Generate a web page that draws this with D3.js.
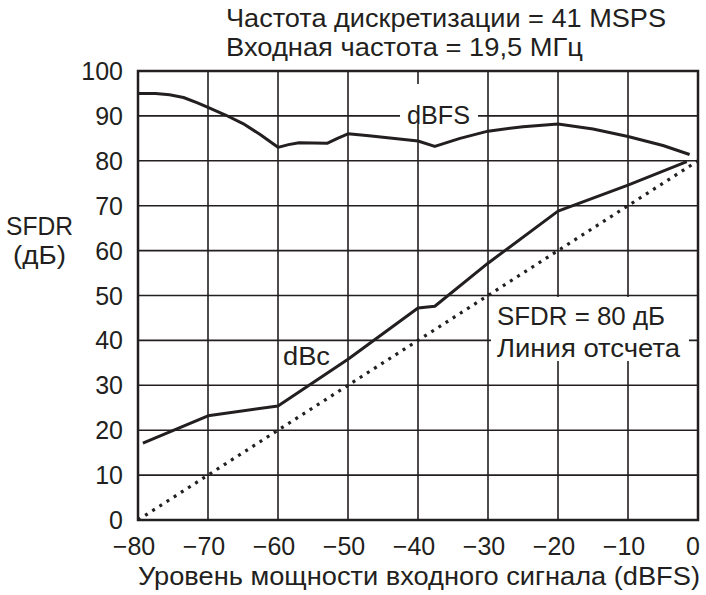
<!doctype html>
<html>
<head>
<meta charset="UTF-8" />
<script src="https://d3js.org/d3.v7.min.js"></script>
<style>
  body { margin: 0; background: #fff; }
  svg text { font-family: "Liberation Sans", Arial, sans-serif; fill: #231f20; }
</style>
</head>
<body>
<svg id="chart" width="706" height="595"></svg>
<script>
(function(){
  "use strict";

  // dBFS curve (input level dBFS, SFDR dB)
  const dbfsX = [-80, -77.5, -75.5, -73.5, -71.5, -70, -67.5, -65, -62.5, -60, -58.5, -57, -53, -51.5, -50, -47, -40, -37.6, -34, -30, -25, -20, -15, -10, -5, -1.2];
  const dbfsY = [95, 95, 94.7, 94.1, 92.9, 91.9, 90.2, 88.3, 85.8, 83, 83.6, 84, 83.9, 85, 86, 85.6, 84.4, 83.2, 85, 86.6, 87.6, 88.2, 87.1, 85.4, 83.4, 81.4];

  // dBc curve
  const dbcX = [-79.3, -70, -60, -50, -40, -37.6, -30, -20, -10, -1.6];
  const dbcY = [17.1, 23.2, 25.4, 35.8, 47.2, 47.6, 57.2, 68.8, 74.6, 79.8];

  // 80 dB reference line
  const refX = [-80, 0];
  const refY = [0, 80];

  const xTicks = [-80, -70, -60, -50, -40, -30, -20, -10, 0];
  const yTicks = [0, 10, 20, 30, 40, 50, 60, 70, 80, 90, 100];

  const svg = d3.select("#chart");
  const x = d3.scaleLinear().domain([-80, 0]).range([138, 698]);
  const y = d3.scaleLinear().domain([0, 100]).range([520, 71]);
  const ink = "#231f20";

  // grid
  svg.append("g").selectAll("line").data(xTicks).enter().append("line")
     .attr("x1", d => x(d)).attr("x2", d => x(d))
     .attr("y1", y(0)).attr("y2", y(100))
     .attr("stroke", ink).attr("stroke-width", 1.6);
  svg.append("g").selectAll("line").data(yTicks).enter().append("line")
     .attr("x1", x(-80)).attr("x2", x(0))
     .attr("y1", d => y(d)).attr("y2", d => y(d))
     .attr("stroke", ink).attr("stroke-width", 1.6);

  // white boxes behind in-plot labels
  svg.append("rect").attr("x", 400).attr("y", 84).attr("width", 78).attr("height", 40).attr("fill", "#fff");
  svg.append("rect").attr("x", 491).attr("y", 297).attr("width", 198).attr("height", 64).attr("fill", "#fff");

  svg.append("rect")
     .attr("x", x(-80)).attr("y", y(100))
     .attr("width", x(0) - x(-80)).attr("height", y(0) - y(100))
     .attr("fill", "none").attr("stroke", ink).attr("stroke-width", 2.5);

  // tick labels
  const fmt = d => d < 0 ? "\u2212" + Math.abs(d) : String(d);
  svg.append("g").selectAll("text").data(xTicks).enter().append("text")
     .attr("x", d => d === 0 ? x(d) - 5 : x(d) - 4).attr("y", 555)
     .attr("text-anchor", "middle").attr("font-size", 25)
     .text(fmt);
  svg.append("g").selectAll("text").data(yTicks).enter().append("text")
     .attr("x", 123).attr("y", d => y(d) + 9)
     .attr("text-anchor", "end").attr("font-size", 25)
     .text(d => d);

  const line = d3.line().x(d => x(d[0])).y(d => y(d[1]));

  // reference line
  svg.append("path")
     .datum(d3.zip(refX, refY))
     .attr("d", line).attr("fill", "none")
     .attr("stroke", ink).attr("stroke-width", 3.2)
     .attr("stroke-dasharray", "3,5.5");

  svg.append("path")
     .datum(d3.zip(dbfsX, dbfsY))
     .attr("d", line).attr("fill", "none")
     .attr("stroke", ink).attr("stroke-width", 3)
     .attr("stroke-linejoin", "round");
  svg.append("path")
     .datum(d3.zip(dbcX, dbcY))
     .attr("d", line).attr("fill", "none")
     .attr("stroke", ink).attr("stroke-width", 3)
     .attr("stroke-linejoin", "round");

  // text with a fixed width, as in the reference
  function txt(s, tx, ty, w) {
    return svg.append("text").attr("x", tx).attr("y", ty)
       .attr("font-size", 25)
       .attr("textLength", w).attr("lengthAdjust", "spacingAndGlyphs")
       .text(s);
  }

  txt("dBFS", 407, 124, 63);
  txt("dBc", 283, 365, 47);
  txt("SFDR = 80 дБ", 497, 325, 168);
  txt("Линия отсчета", 497, 357, 183);

  txt("Частота дискретизации = 41 MSPS", 226, 27, 440);
  txt("Входная частота = 19,5 МГц", 226, 56, 357);
  txt("SFDR", 6, 235, 67);
  txt("(дБ)", 13, 264, 53);
  txt("Уровень мощности входного сигнала (dBFS)", 138, 585, 562);
})();
</script>
</body>
</html>
